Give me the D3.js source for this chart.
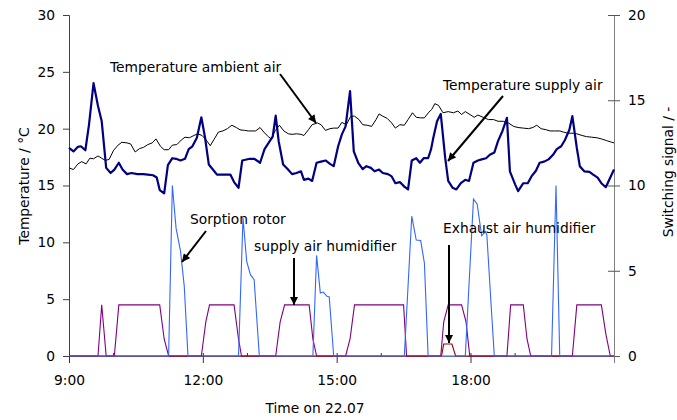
<!DOCTYPE html>
<html>
<head>
<meta charset="utf-8">
<script src="https://cdn.jsdelivr.net/npm/d3@7"></script>
<style>
  html, body { margin: 0; padding: 0; background: #fff; }
  svg { display: block; }
  text { font-family: "DejaVu Sans", Verdana, sans-serif; font-size: 13.8px; fill: #000; }
</style>
</head>
<body>
<svg id="chart" width="677" height="420"></svg>
<script>
// Supply air temperature (°C), left axis
const supplyTimes = ["9:00","9:06","9:12","9:16","9:22","9:27","9:33","9:39","9:44","9:50","9:56","10:01","10:07","10:12","10:18","10:24","10:32","10:40","10:46","10:53","10:58","11:02","11:08","11:13","11:19","11:24","11:30","11:36","11:41","11:46","11:52","11:58","12:03","12:08","12:13","12:19","12:25","12:37","12:42","12:48","12:53","13:03","13:09","13:17","13:23","13:30","13:34","13:38","13:42","13:48","13:54","14:00","14:06","14:12","14:16","14:22","14:27","14:33","14:39","14:45","14:51","14:56","15:02","15:07","15:12","15:18","15:23","15:29","15:35","15:40","15:46","15:51","15:57","16:02","16:09","16:14","16:19","16:25","16:31","16:36","16:41","16:47","16:52","16:57","17:03","17:07","17:10","17:15","17:20","17:26","17:30","17:36","17:41","17:47","17:53","17:58","18:04","18:10","18:15","18:21","18:26","18:32","18:37","18:43","18:49","18:53","19:00","19:04","19:11","19:17","19:22","19:28","19:33","19:39","19:45","19:51","19:56","20:02","20:07","20:13","20:17","20:23","20:27","20:33","20:40","20:45","20:51","20:56","21:02","21:08","21:13"];
const supplyTemp = [18.3,18.0,18.4,18.45,18.1,20.4,24.0,22.0,20.65,16.55,16.1,16.4,17.0,16.4,16.0,16.1,16.0,16.0,15.96,15.9,15.7,14.6,14.3,16.8,17.4,17.35,17.2,17.35,18.2,18.45,19.2,21.0,19.2,16.85,16.45,15.96,15.96,15.96,15.3,14.8,17.2,17.35,17.35,17.0,18.2,18.9,19.3,21.15,18.9,16.85,16.45,16.0,16.1,16.25,15.5,15.6,15.4,17.0,17.1,17.2,16.9,16.7,18.45,19.5,20.2,23.3,18.0,17.0,16.45,16.7,16.55,16.25,16.4,16.1,16.0,15.8,15.2,15.3,14.9,14.65,17.2,17.4,17.0,17.4,17.4,18.2,19.2,20.65,21.3,17.4,15.4,14.8,14.65,15.2,15.5,15.4,17.0,17.2,17.3,17.4,17.7,17.9,18.9,19.8,20.95,16.25,15.1,14.5,15.2,15.2,15.8,16.3,17.0,17.1,17.3,17.7,18.2,18.45,19.0,19.9,21.1,18.3,16.7,16.25,16.2,15.96,15.7,15.2,14.85,15.7,16.4];

// Ambient air temperature (°C), left axis
const ambientTimes = ["9:00","9:06","9:12","9:17","9:23","9:28","9:33","9:39","9:44","9:49","9:54","10:00","10:06","10:11","10:18","10:23","10:29","10:35","10:40","10:46","10:52","10:57","11:03","11:08","11:14","11:19","11:25","11:31","11:36","11:42","11:48","11:53","11:59","12:04","12:10","12:15","12:21","12:27","12:33","12:39","12:45","12:50","12:56","13:01","13:05","13:11","13:17","13:22","13:28","13:32","13:37","13:43","13:49","13:55","14:00","14:06","14:12","14:16","14:22","14:27","14:34","14:39","14:45","14:51","14:56","15:02","15:07","15:13","15:19","15:24","15:30","15:35","15:41","15:47","15:53","15:57","16:02","16:08","16:14","16:19","16:25","16:31","16:36","16:42","16:47","16:53","16:58","17:04","17:08","17:12","17:17","17:23","17:30","17:37","17:43","17:48","17:53","17:58","18:05","18:10","18:17","18:24","18:31","18:37","18:44","18:51","18:58","19:04","19:11","19:18","19:24","19:29","19:35","19:42","19:47","19:53","20:00","20:05","20:11","20:18","20:23","20:30","20:36","20:43","20:50","20:56","21:03","21:10","21:13"];
const ambientTemp = [16.55,16.4,16.9,17.1,16.9,17.4,17.35,17.6,17.4,17.2,17.3,18.1,18.55,18.8,18.75,18.65,17.95,18.25,18.35,18.6,18.75,19.1,18.45,18.15,18.15,18.55,18.6,19.0,19.25,19.2,19.4,19.55,19.4,19.05,18.5,19.05,19.7,19.8,20.0,20.3,20.1,19.9,19.85,19.8,19.8,19.8,20.1,19.7,19.3,19.1,19.8,20.3,19.8,19.55,19.5,19.55,19.5,19.4,19.9,20.35,20.5,20.35,19.85,20.0,20.05,20.05,20.55,20.35,21.1,21.1,20.8,20.35,20.3,20.2,20.8,21.3,21.1,20.9,20.5,20.05,20.35,20.3,20.8,21.4,21.0,20.95,20.95,21.45,21.7,22.2,22.05,21.4,21.5,21.4,21.55,21.25,21.5,21.3,21.0,21.2,21.0,20.8,20.8,20.65,20.65,20.5,20.2,20.1,20.05,20.0,20.1,20.3,20.0,19.9,19.8,19.8,19.8,19.7,19.6,19.6,19.55,19.4,19.3,19.25,19.2,19.1,18.95,18.8,18.75];

// Supply air humidifier switching signal, right axis
const humidTimes = ["9:00","9:39","9:44","9:50","10:01","10:07","11:02","11:08","11:14","11:58","12:04","12:09","12:42","12:48","12:52","13:38","13:44","13:50","14:23","14:28","14:33","15:12","15:18","15:24","16:30","16:34","17:20","17:24","17:30","17:48","17:54","17:59","18:49","18:54","19:11","19:16","19:21","20:17","20:23","20:56","21:02","21:08","21:13"];
const humidSignal = [0,0,3,0,0,3,3,1,0,0,2,3,3,1,0,0,2,3,3,1,0,0,1,3,3,0,0,2,3,3,2,0,0,3,3,1,0,0,3,3,1.3,0,0];

// Sorption rotor switching signal, right axis
const rotorTimes = ["9:00","11:14","11:19","11:24","11:30","11:35","11:40","12:48","12:54","12:59","13:04","13:09","13:16","14:28","14:33","14:38","14:42","14:47","14:50","14:56","16:31","16:41","16:47","16:53","16:58","17:03","17:53","18:04","18:09","18:15","18:20","18:22","18:27","18:32","19:49","19:55","20:00","21:13"];
const rotorSignal = [0,0,10,7.5,6.15,4.1,0,0,8.1,5.55,4.77,4.48,0,0,5.9,3.7,3.75,3.5,3.47,0,0,8.2,6.8,6.77,5.45,0,0,9.2,8.9,7.05,7.3,7.1,3.5,0,0,10,0,0];

// Exhaust air humidifier switching signal, right axis
const exhaustTimes = ["9:00","17:21","17:24","17:35","17:40","21:13"];
const exhaustSignal = [0,0,0.7,0.7,0,0];

// Axis ticks
const timeTicks = ["9:00","12:00","15:00","18:00"];
const minorTimeTicks = ["10:00","13:00","16:00","19:00"];
const tempTicks = [0,5,10,15,20,25,30];
const signalTicks = [0,5,10,15,20];

const parseTime = d3.timeParse("%H:%M");
const fmtTime = d3.timeFormat("%-H:%M");

const svg = d3.select("#chart");
const plotLeft = 69, plotRight = 614, plotTop = 15, plotBottom = 356;

const x = d3.scaleTime()
  .domain([parseTime("9:00"), parseTime("21:13")])
  .range([plotLeft, plotRight]);
const yT = d3.scaleLinear().domain([0, 30]).range([plotBottom, plotTop]);
const yS = d3.scaleLinear().domain([0, 20]).range([plotBottom, plotTop]);

const pts = (times, vals) => times.map((t, i) => [parseTime(t), vals[i]]);

// Axes
const gLeft = svg.append("g").attr("transform", `translate(${plotLeft},0)`)
  .call(d3.axisLeft(yT).tickValues(tempTicks).tickSize(6).tickPadding(8));
gLeft.select(".domain").attr("stroke", "#404040");
gLeft.selectAll(".tick line").attr("stroke", "#404040");

const gRight = svg.append("g").attr("transform", `translate(${plotRight},0)`)
  .call(d3.axisRight(yS).tickValues(signalTicks).tickSize(6).tickPadding(8));
gRight.select(".domain").attr("stroke", "#808080");
gRight.selectAll(".tick line").attr("stroke", "#555").attr("x1", -6);

const gBottom = svg.append("g").attr("transform", `translate(0,${plotBottom})`)
  .call(d3.axisBottom(x).tickValues(timeTicks.map(parseTime)).tickFormat(fmtTime).tickSize(7).tickPadding(12));
gBottom.select(".domain").attr("stroke", "#808080");
gBottom.selectAll(".tick line").attr("stroke", "#333").attr("y1", -3);

svg.append("g").selectAll("line").data(minorTimeTicks.map(parseTime)).join("line")
  .attr("x1", d => x(d)).attr("x2", d => x(d))
  .attr("y1", plotBottom - 3).attr("y2", plotBottom)
  .attr("stroke", "#333");

svg.selectAll(".tick text").style("font-family", "DejaVu Sans, Verdana, sans-serif").style("font-size", "13.8px").attr("fill", "#000");
svg.selectAll(".domain").attr("stroke-width", 1);

// Axis titles
svg.append("text").attr("transform", "translate(29,186) rotate(-90)")
  .attr("text-anchor", "middle").text("Temperature / °C");
svg.append("text").attr("transform", "translate(673,172) rotate(-90)")
  .attr("text-anchor", "middle").text("Switching signal / -");
svg.append("text").attr("x", 315).attr("y", 413)
  .attr("text-anchor", "middle").text("Time on 22.07");

// Series
const lineT = d3.line().x(d => x(d[0])).y(d => yT(d[1]));
const lineS = d3.line().x(d => x(d[0])).y(d => yS(d[1]));

svg.append("path").datum(pts(humidTimes, humidSignal)).attr("d", lineS)
  .attr("fill", "none").attr("stroke", "#800080").attr("stroke-width", 1.1);
svg.append("path").datum(pts(exhaustTimes, exhaustSignal)).attr("d", lineS)
  .attr("fill", "none").attr("stroke", "#990000").attr("stroke-width", 1.1);
svg.append("path").datum(pts(rotorTimes, rotorSignal)).attr("d", lineS)
  .attr("fill", "none").attr("stroke", "#3366ff").attr("stroke-width", 1.1);
svg.append("path").datum(pts(ambientTimes, ambientTemp)).attr("d", lineT)
  .attr("fill", "none").attr("stroke", "#000").attr("stroke-width", 1);
svg.append("path").datum(pts(supplyTimes, supplyTemp)).attr("d", lineT)
  .attr("fill", "none").attr("stroke", "#000080").attr("stroke-width", 2.2)
  .attr("stroke-linejoin", "round");

// Annotations
svg.append("defs").append("marker")
  .attr("id", "head").attr("viewBox", "0 0 10 10")
  .attr("refX", 10).attr("refY", 5)
  .attr("markerUnits", "userSpaceOnUse")
  .attr("markerWidth", 9).attr("markerHeight", 8)
  .attr("orient", "auto")
  .append("path").attr("d", "M0,0 L10,5 L0,10 Z").attr("fill", "#000");

const notes = [
  { text: "Temperature ambient air", tx: 110, ty: 72, x1: 280, y1: 74, x2: 316, y2: 123 },
  { text: "Temperature supply air", tx: 443, ty: 90, x1: 503, y1: 96, x2: 448, y2: 161 },
  { text: "Sorption rotor", tx: 190, ty: 224, x1: 206, y1: 231, x2: 182, y2: 262 },
  { text: "supply air humidifier", tx: 254, ty: 251, x1: 294, y1: 258, x2: 294, y2: 305 },
  { text: "Exhaust air humidifier", tx: 443, ty: 233, x1: 449, y1: 245, x2: 449, y2: 343 }
];
const gNotes = svg.append("g");
notes.forEach(n => {
  gNotes.append("text").attr("x", n.tx).attr("y", n.ty).text(n.text);
  gNotes.append("line").attr("x1", n.x1).attr("y1", n.y1).attr("x2", n.x2).attr("y2", n.y2)
    .attr("stroke", "#000").attr("stroke-width", 2).attr("marker-end", "url(#head)");
});
</script>
</body>
</html>
